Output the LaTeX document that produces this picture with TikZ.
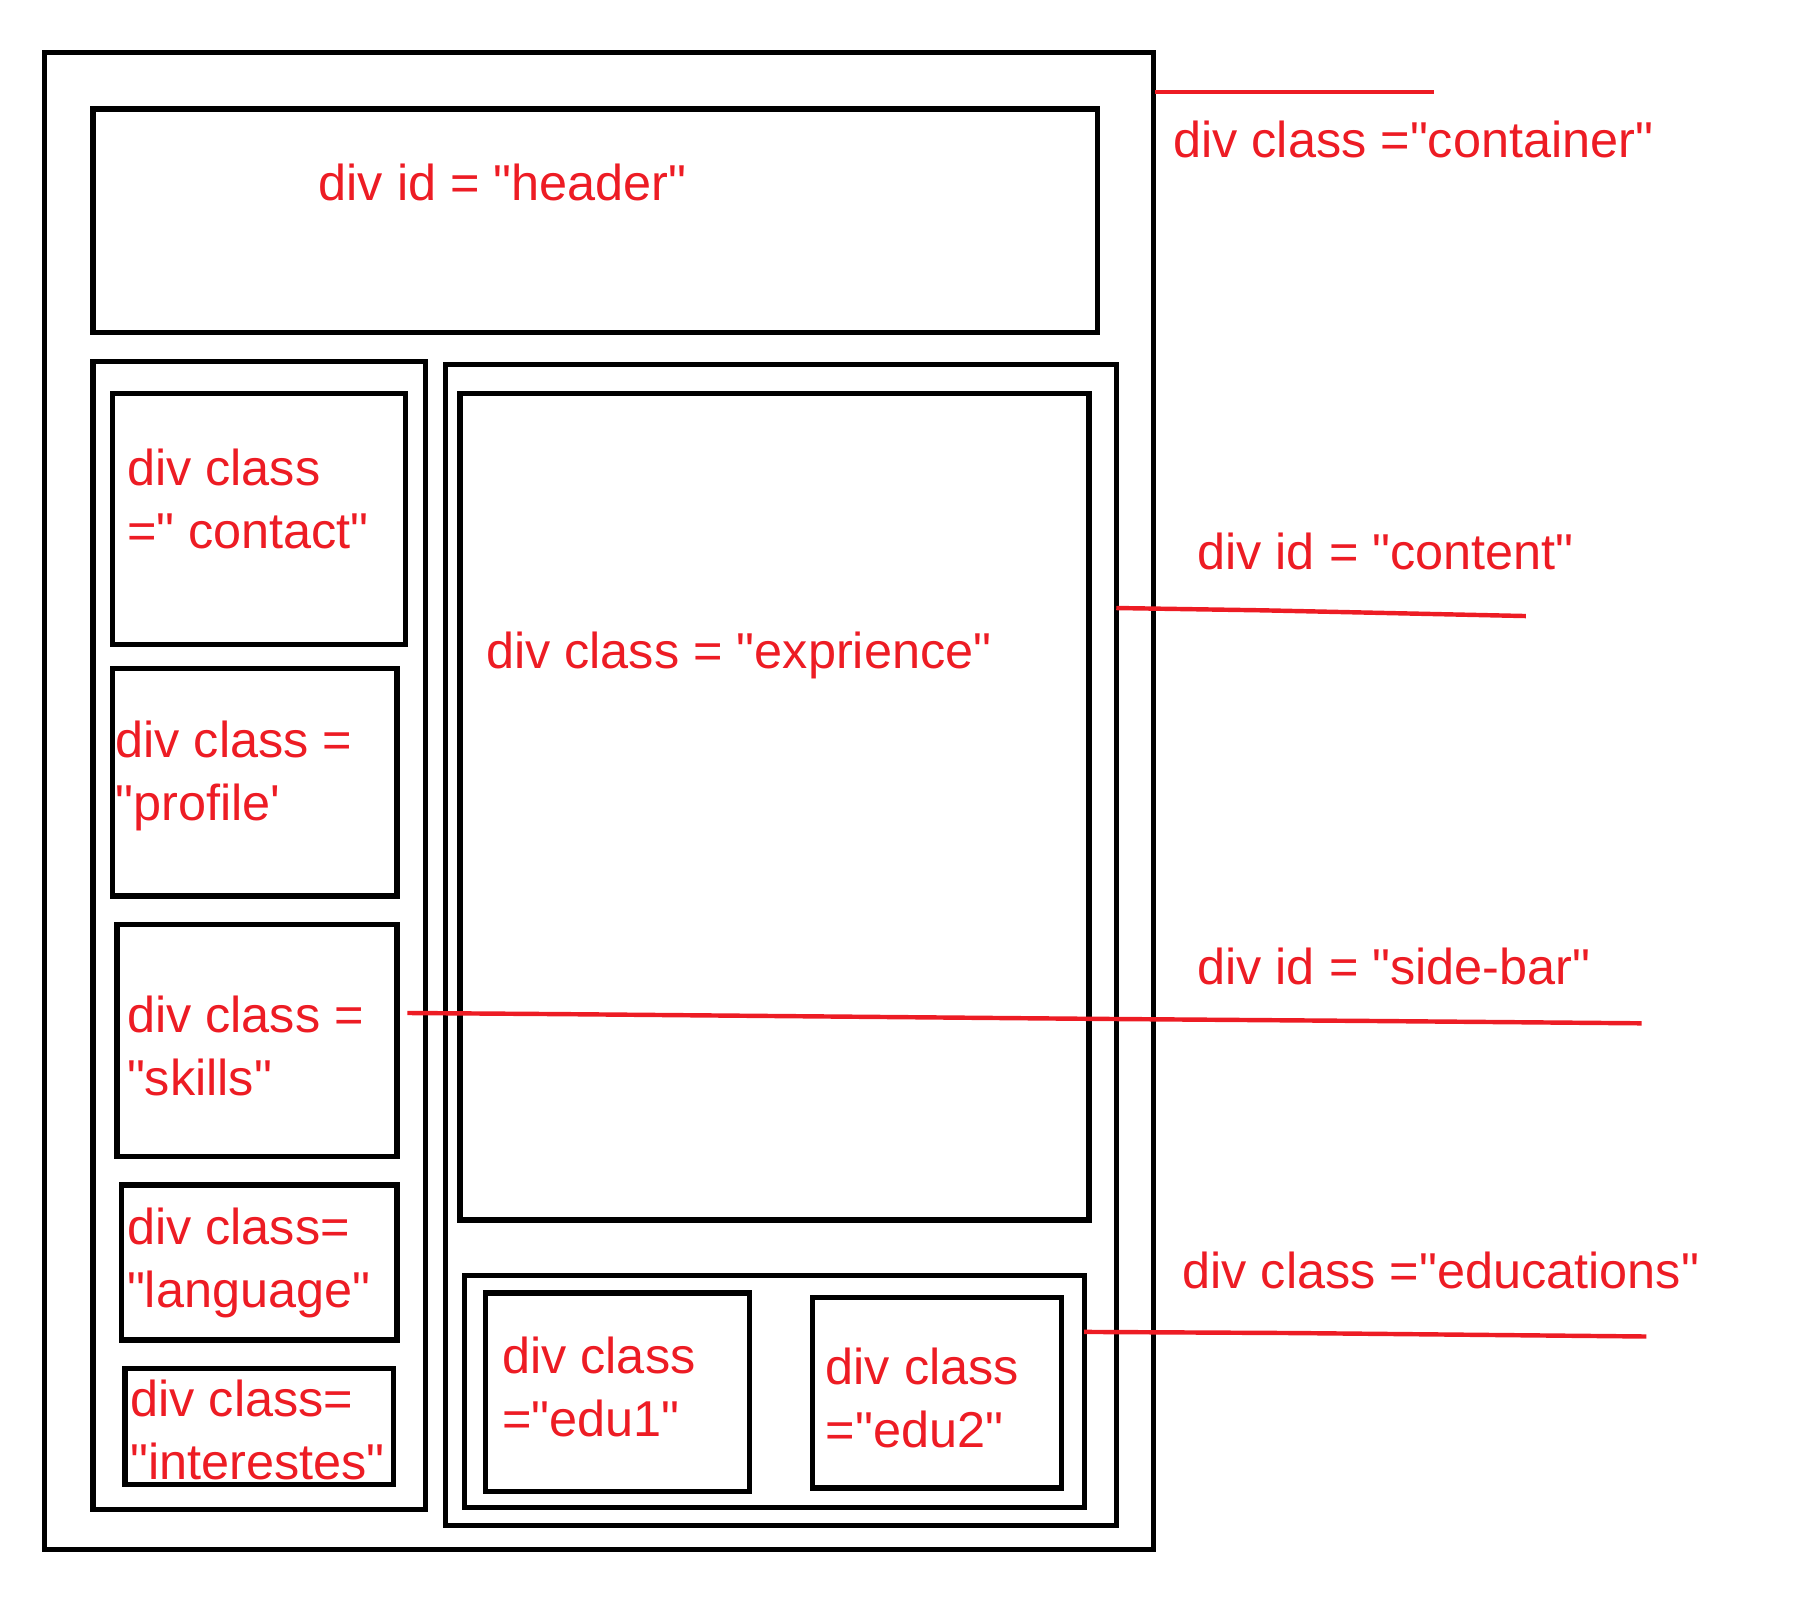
\documentclass[tikz,border=0pt]{standalone}
\usepackage{fontspec}
\setmainfont{Liberation Sans}[Ligatures=TeXOff]
\usepackage{tikz}
\usetikzlibrary{positioning}
\definecolor{paintRed}{RGB}{237,28,36}
\tikzstyle{divBox}=[draw, line width=1.3pt, anchor=north west, inner sep=0pt, outer sep=0pt]
\tikzstyle{redText}=[text=paintRed, anchor=base west, inner sep=0pt, align=left, font=\fontsize{12.5}{15.6}\selectfont]
\tikzstyle{redLine}=[draw=paintRed, line width=1.1pt]

\begin{document}
\begin{tikzpicture}[x=0.01cm, y=-0.01cm]
      \useasboundingbox (0,0) rectangle (1569,1395);
      % boxes
      \node(container) [divBox, minimum width=9.66cm, minimum height=13.04cm] at (39,46){};
      \node(header) [divBox, minimum width=8.75cm, minimum height=1.95cm] at (81,95){};
      \node(sidebar) [divBox, minimum width=2.90cm, minimum height=10.00cm] at (81,315){};
      \node(content) [divBox, minimum width=5.85cm, minimum height=10.11cm] at (388,318){};
      \node(contact) [divBox, minimum width=2.55cm, minimum height=2.19cm] at (98,343){};
      \node(profile) [divBox, minimum width=2.48cm, minimum height=1.98cm] at (98,583){};
      \node(skills) [divBox, minimum width=2.44cm, minimum height=2.02cm] at (102,806){};
      \node(language) [divBox, minimum width=2.40cm, minimum height=1.35cm] at (106,1033){};
      \node(interests) [divBox, minimum width=2.34cm, minimum height=1.01cm] at (109,1193){};
      \node(exp) [divBox, minimum width=5.48cm, minimum height=7.20cm] at (401,343){};
      \node(edus) [divBox, minimum width=5.40cm, minimum height=2.02cm] at (405,1112){};
      \node(edu1) [divBox, minimum width=2.30cm, minimum height=1.73cm] at (423,1127){};
      \node(edu2) [divBox, minimum width=2.17cm, minimum height=1.66cm] at (708,1131){};
      % labels (two-line ones sit on their last line)
      \node(Lheader) [redText] at (277,175){div id = "header"};
      \node(Lcontainer) [redText] at (1022,137){div class ="container"};
      \node(Lcontent) [redText] at (1043,496){div id = "content"};
      \node(Lexp) [redText] at (423,583){div class = "exprience"};
      \node(Lsidebar) [redText] at (1043,858){div id = "side-bar"};
      \node(Ledus) [redText] at (1030,1123){div class ="educations"};
      \node(Lcontact) [redText] at (110,478){div class\\=" contact"};
      \node(Lprofile) [redText] at (100,715){div class =\\"profile'};
      \node(Lskills) [redText] at (110,955){div class =\\"skills"};
      \node(Llanguage) [redText] at (110,1140){div class=\\"language"};
      \node(Linterests) [redText] at (113,1290){div class=\\"interestes"};
      \node(Ledu1) [redText] at (437,1252){div class\\="edu1"};
      \node(Ledu2) [redText] at (719,1262){div class\\="edu2"};
      % leader lines
      \coordinate(c1) at (1007,80);
      \coordinate(c2) at (1250,80);
      \coordinate(t1) at (973,530);
      \coordinate(t2) at (1330,537);
      \coordinate(s1) at (355,883);
      \coordinate(s2) at (1431,892);
      \coordinate(e1) at (945,1161);
      \coordinate(e2) at (1435,1165);
      \draw[redLine] (c1) to (c2);
      \draw[redLine] (t1) -- (1100,532) -- (t2);
      \draw[redLine] (s1) -- (490,884) -- (940,888) -- (1200,890) -- (s2);
      \draw[redLine] (e1) -- (1130,1162) -- (e2);
\end{tikzpicture}
\end{document}
